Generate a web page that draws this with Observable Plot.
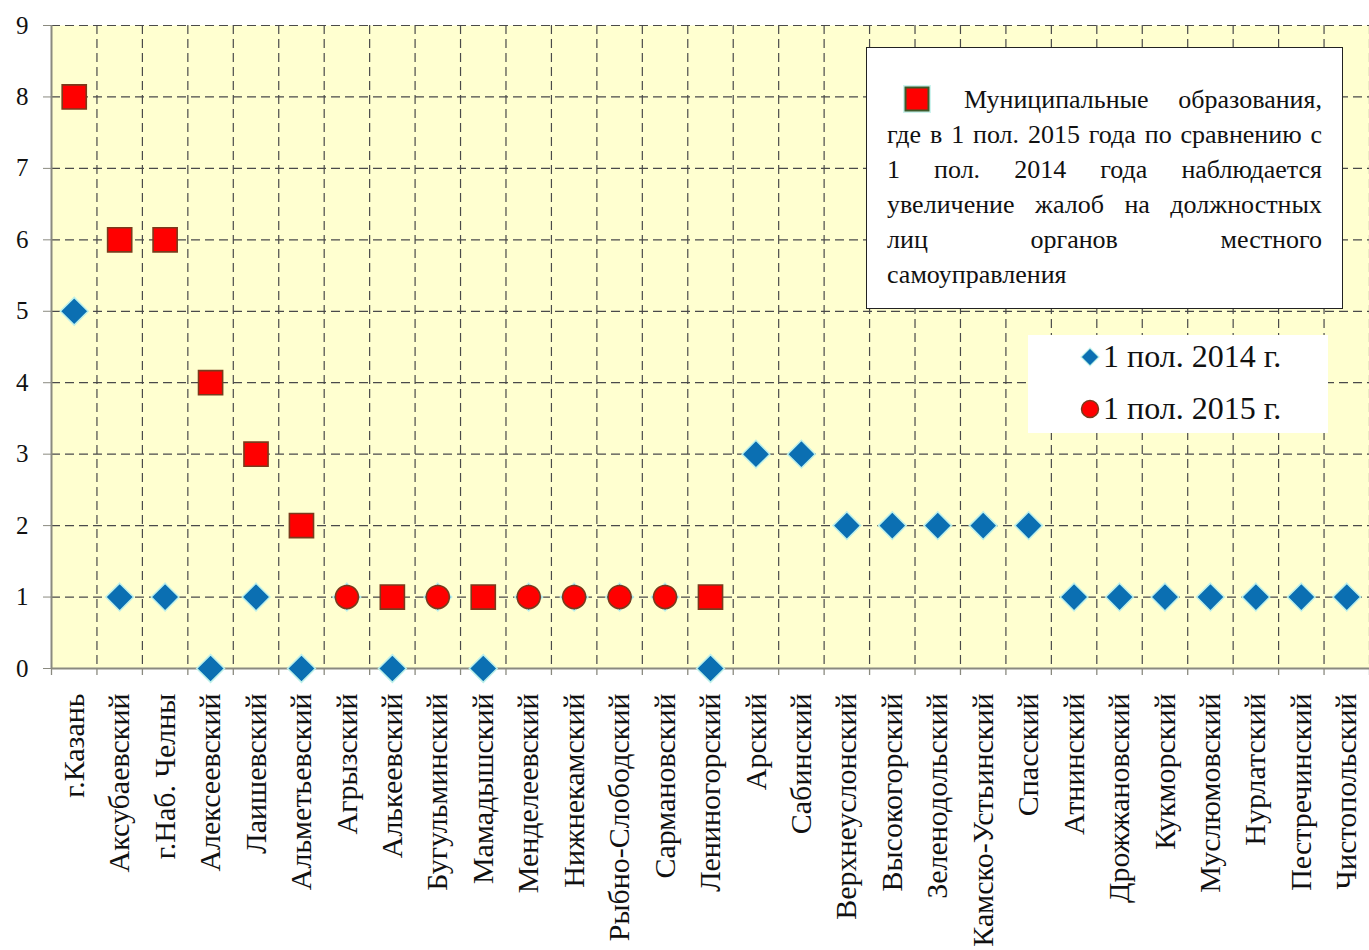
<!DOCTYPE html>
<html>
<head>
<meta charset="utf-8">
<script src="https://cdn.jsdelivr.net/npm/d3@7"></script>
<script src="https://cdn.jsdelivr.net/npm/@observablehq/plot@0.6"></script>
<style>
  body { margin: 0; background: #fff; }
  #wrap { position: relative; width: 1369px; height: 950px; overflow: hidden; font-family: "Liberation Serif", "Times New Roman", serif; color: #111; }
  #box1 { position: absolute; left: 866px; top: 47px; width: 477px; height: 262px; box-sizing: border-box; border: 1.5px solid #222; background: #fff; padding: 34px 20px 0 20px; font-family: "Liberation Serif", serif; font-size: 26px; line-height: 35px; color: #111; }
  #box1 .ln { text-align: justify; text-align-last: justify; white-space: nowrap; }
  #box1 .ln.first { padding-left: 77px; position: relative; }
  #box1 .ln.last { text-align-last: left; }
  #box2 { position: absolute; left: 1028px; top: 335px; width: 300px; height: 98px; background: #fff; font-family: "Liberation Serif", serif; font-size: 32px; color: #111; }
  #box2 .item { position: absolute; left: 52px; display: flex; align-items: center; white-space: nowrap; }
  #box2 .item svg { margin-right: 3px; }
</style>
</head>
<body>
<div id="wrap">
  <div id="chart"></div>
  <div id="box1"></div>
  <div id="box2"></div>
</div>
<script>
// ---- data ----
const municipalities = [
  "г.Казань", "Аксубаевский", "г.Наб. Челны", "Алексеевский", "Лаишевский", "Альметьевский",
  "Агрызский", "Алькеевский", "Бугульминский", "Мамадышский", "Менделеевский", "Нижнекамский",
  "Рыбно-Слободский", "Сармановский", "Лениногорский", "Арский", "Сабинский", "Верхнеуслонский",
  "Высокогорский", "Зеленодольский", "Камско-Устьинский", "Спасский", "Атнинский", "Дрожжановский",
  "Кукморский", "Муслюмовский", "Нурлатский", "Пестречинский", "Чистопольский"
];
const values2014 = [5, 1, 1, 0, 1, 0, 1, 0, 1, 0, 1, 1, 1, 1, 0, 3, 3, 2, 2, 2, 2, 2, 1, 1, 1, 1, 1, 1, 1];
const values2015 = [8, 6, 6, 4, 3, 2, 1, 1, 1, 1, 1, 1, 1, 1, 1, null, null, null, null, null, null, null, null, null, null, null, null, null, null];
const increased = [1, 1, 1, 1, 1, 1, 0, 1, 0, 1, 0, 0, 0, 0, 1, 0, 0, 0, 0, 0, 0, 0, 0, 0, 0, 0, 0, 0, 0];
const yTicks = [0, 1, 2, 3, 4, 5, 6, 7, 8, 9];
const legendNote = [
  "Муниципальные образования,",
  "где в 1 пол. 2015 года по сравнению с",
  "1 пол. 2014 года наблюдается",
  "увеличение жалоб на должностных",
  "лиц органов местного",
  "самоуправления"
];
const seriesNames = ["1 пол. 2014 г.", "1 пол. 2015 г."];

// ---- layout ----
const W = 1369, H = 950, ML = 51, MR = 0, MT = 25, MB = 282;
const bw = (W - ML - MR) / municipalities.length;
const BLUE = "#0b6fb2", RED = "#ff0000", RED_STROKE = "#7a3a1c", GRID = "#4a4a4a", AXIS = "#8a8a80";

const idx = municipalities.map((_, i) => i);
const idx2015circ = idx.filter(i => values2015[i] != null && !increased[i]);
const idxInc = idx.filter(i => values2015[i] != null && increased[i]);
const X = i => municipalities[i];

const chart = Plot.plot({
  width: W, height: H,
  marginLeft: ML, marginRight: MR, marginTop: MT, marginBottom: MB,
  x: { type: "band", domain: municipalities, padding: 0, round: false },
  y: { domain: [0, 9] },
  style: { fontFamily: "'Liberation Serif', 'Times New Roman', serif", background: "transparent", color: "#111", overflow: "hidden" },
  marks: [
    Plot.frame({ fill: "#ffffd0", stroke: null }),
    Plot.ruleY(yTicks.filter(d => d > 0), { stroke: GRID, strokeDasharray: "9,5", strokeWidth: 1.2 }),
    Plot.ruleX(municipalities, { x: d => d, dx: bw / 2, stroke: GRID, strokeDasharray: "9,5", strokeWidth: 1.2 }),
    // axis lines
    Plot.ruleY([0], { stroke: AXIS, strokeWidth: 1.8 }),
    Plot.ruleX([municipalities[0]], { x: d => d, dx: -bw / 2, stroke: AXIS, strokeWidth: 2 }),
    // bottom tick marks at band boundaries
    Plot.ruleX(municipalities, { x: d => d, y1: 0, y2: 0, dx: bw / 2, insetBottom: -7, stroke: AXIS, strokeWidth: 1.3 }),
    Plot.ruleX([municipalities[0]], { x: d => d, y1: 0, y2: 0, dx: -bw / 2, insetBottom: -7, stroke: AXIS, strokeWidth: 1.3 }),
    Plot.axisY({ ticks: yTicks, tickSize: 8, tickPadding: 15, fontSize: 25, label: null, stroke: AXIS, tickFormat: d => String(d) }),
    Plot.axisX({ tickSize: 0, tickPadding: 25, tickRotate: -90, fontSize: 30, label: null }),
    // 2014 diamonds
    Plot.dot(idx, { x: X, y: i => values2014[i], symbol: "diamond2", r: 12.5, fill: BLUE, stroke: "#bdf0ea", strokeWidth: 1.5 }),
    // 2015 circles (no increase)
    Plot.dot(idx2015circ, { x: X, y: i => values2015[i], symbol: "circle", r: 11.5, fill: RED, stroke: RED_STROKE, strokeWidth: 1.6 }),
    // 2015 squares (increase)
    Plot.dot(idxInc, { x: X, y: i => values2015[i], symbol: "square", r: 13.6, fill: RED, stroke: RED_STROKE, strokeWidth: 1.6 })
  ]
});
document.getElementById("chart").appendChild(chart);

// ---- legend 1 ----
const box1 = document.getElementById("box1");
legendNote.forEach((t, k) => {
  const d = document.createElement("div");
  d.className = "ln" + (k === 0 ? " first" : "") + (k === legendNote.length - 1 ? " last" : "");
  if (k === 0) {
    d.innerHTML = '<svg width="28" height="28" viewBox="0 0 28 28" style="position:absolute;left:16px;top:3px"><rect x="0" y="0" width="28" height="28" fill="#cdf3ee"/><rect x="2.5" y="2.5" width="23" height="23" fill="' + RED + '" stroke="#3d5a2a" stroke-width="2"/></svg>';
  }
  d.appendChild(document.createTextNode(t));
  box1.appendChild(d);
});

// ---- legend 2 ----
const box2 = document.getElementById("box2");
const sym = [
  '<svg width="20" height="20" viewBox="0 0 20 20"><path d="M10 1 L19 10 L10 19 L1 10 Z" fill="' + BLUE + '" stroke="#bdf0ea" stroke-width="1.2"/></svg>',
  '<svg width="20" height="20" viewBox="0 0 20 20"><circle cx="10" cy="10" r="8.5" fill="' + RED + '" stroke="' + RED_STROKE + '" stroke-width="1.5"/></svg>'
];
seriesNames.forEach((s, k) => {
  const d = document.createElement("div");
  d.className = "item";
  d.style.top = (k === 0 ? 3 : 55) + "px";
  d.innerHTML = sym[k] + "<span>" + s + "</span>";
  box2.appendChild(d);
});
</script>
</body>
</html>
